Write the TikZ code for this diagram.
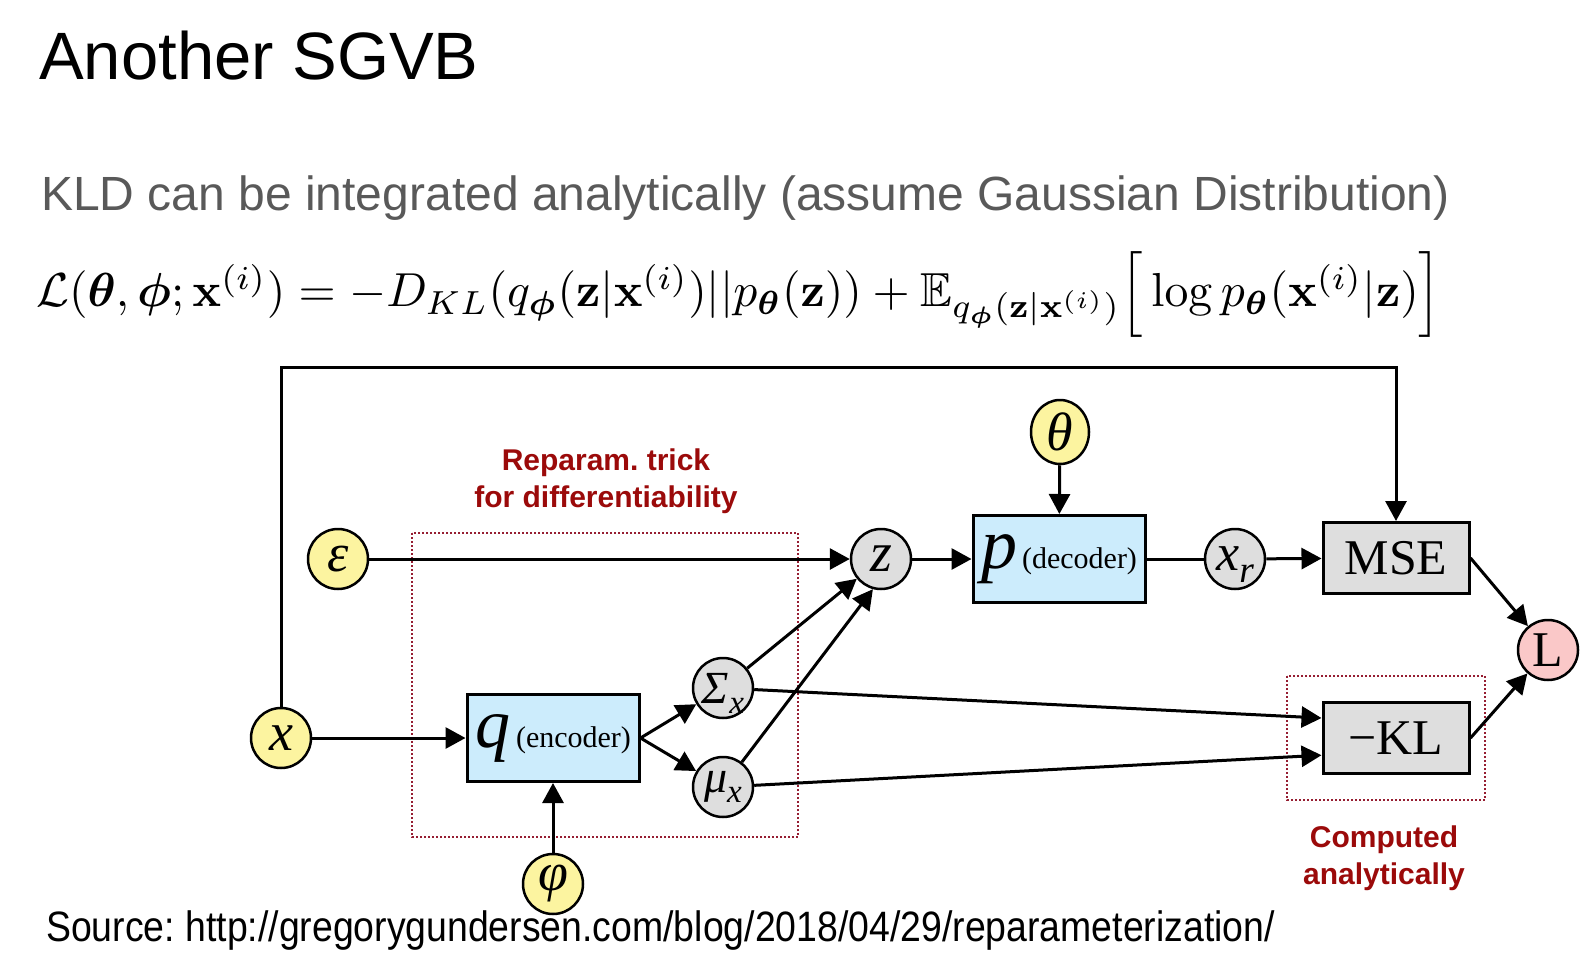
\documentclass[tikz,border=0pt]{standalone}
\usepackage{amsmath,amssymb}
\usepackage[no-math]{fontspec}
\setmainfont{Liberation Serif}
\newfontfamily\arialfont{Liberation Sans}
\usetikzlibrary{arrows.meta,shapes.geometric}

\definecolor{varyellow}{RGB}{252,244,160}
\definecolor{vargray}{RGB}{222,222,222}
\definecolor{netblue}{RGB}{204,236,252}
\definecolor{losspink}{RGB}{250,200,200}
\definecolor{notered}{RGB}{155,10,10}
\definecolor{boxred}{RGB}{150,30,50}
\definecolor{subgray}{RGB}{89,89,89}

\newcommand\fsz[1]{\fontsize{#1}{#1}\selectfont}
\newcommand\lowidx[1]{\raisebox{-0.22em}[0pt][0pt]{\scalebox{0.72}{#1}}}
\frenchspacing

\begin{document}
\begin{tikzpicture}[x=1pt,y=-1pt]
    \tikzset{
      var/.style={
        circle,
        draw,
        line width=2.5pt,
        minimum size=60pt,
        inner sep=0pt,
        font=\fsz{54}\itshape,
      },
      obs/.style={var, fill=varyellow},
      hid/.style={var, fill=vargray},
      net/.style={
        rectangle, draw, line width=3pt, fill=netblue,
        minimum width=172pt, minimum height=87pt, inner sep=0pt,
      },
      cost/.style={
        rectangle, draw, line width=3pt, fill=vargray,
        minimum width=146pt, minimum height=71pt, inner sep=0pt,
        font=\fsz{50},
      },
      note/.style={
        text=notered, align=center, inner sep=0pt,
        font=\arialfont\bfseries\fontsize{30}{37}\selectfont,
      },
      flow/.style={
        line width=3pt,
        -{Triangle[length=20pt,width=21pt]},
      }
    }
    \tikzstyle{bigbox} = [draw=boxred, line width=2pt, dotted]

    \useasboundingbox (0,0) rectangle (1596,961);

    % text of the slide
    \node[anchor=base west, inner sep=0pt, font=\arialfont\fsz{67}] (title) at (39,79) {Another SGVB};
    \node[anchor=base west, inner sep=0pt, text=subgray, font=\arialfont\fsz{48}] (claim) at (41,210)
        {KLD can be integrated analytically (assume Gaussian Distribution)};
    \node[anchor=west, inner sep=0pt] (elbo) at (36,295) {\scalebox{4.77}{$
        \mathcal{L}(\boldsymbol{\theta},\boldsymbol{\phi};\mathbf{x}^{(i)})
        = -D_{KL}(q_{\boldsymbol{\phi}}(\mathbf{z}|\mathbf{x}^{(i)})||p_{\boldsymbol{\theta}}(\mathbf{z}))
        + \mathbb{E}_{q_{\boldsymbol{\phi}}(\mathbf{z}|\mathbf{x}^{(i)})}
        \Big[\log p_{\boldsymbol{\theta}}(\mathbf{x}^{(i)}|\mathbf{z})\Big]$}};
    \node[anchor=base west, inner sep=0pt] (source) at (46,941)
        {\scalebox{0.88}[1]{\arialfont\fsz{42.5}Source: http://gregorygundersen.com/blog/2018/04/29/reparameterization/}};

    % dotted frames and their notes
    \draw[bigbox] (412,533) rectangle (798,837);
    \draw[bigbox] (1287,676) rectangle (1485,800);
    \node[note] (reparam) at (606,481) {Reparam. trick\\for differentiability};
    \node[note] (analytic) at (1384,858) {Computed\\analytically};

    % graph
    \node[obs] (xin) at (281,738) {x};
    \node[obs] (eps) at (338,559) {ε};
    \node[obs] (phi) at (553,884) {φ};
    \node[obs, ellipse, minimum width=58pt, minimum height=64pt] (theta) at (1060,432) {θ};
    \node[net] (enc) at (553,738) {{\fsz{70}\itshape q}\kern6pt{\fsz{30}(encoder)}};
    \node[hid, font=\fsz{46}\itshape] (sig) at (723,688) {Σ\lowidx{x}};
    \node[hid, font=\fsz{46}\itshape] (mu) at (723,787) {μ\lowidx{x}};
    \node[hid, font=\fsz{56}\itshape] (z) at (881,559) {z};
    \node[net] (dec) at (1059,559) {{\fsz{72}\itshape p}\kern5pt{\fsz{30}(decoder)}};
    \node[hid, font=\fsz{52}\itshape] (xr) at (1235,559) {x\lowidx{r}};
    \node[cost] (mse) at (1396,558) {MSE};
    \node[cost] (kl) at (1396,738) {−KL};
    \node[var, fill=losspink, font=\fsz{50}] (loss) at (1548,650) {L};
    \coordinate (toprun) at (840,367);

    \path[flow]
        (xin) edge (enc)
        (phi) edge (enc)
        (enc.east) edge (sig)
        (enc.east) edge (mu)
        (eps) edge (z)
        (sig) edge (z)
        (mu) edge (z.255)
        (z) edge (dec)
        (theta) edge (dec)
        (xr) edge (mse)
        (sig) edge (kl.165)
        (mu) edge (kl.193)
        (mse.east) edge (loss)
        (kl.east) edge (loss);
    \draw[line width=3pt] (dec) -- (xr);
    \draw[flow] (xin) |- (toprun) -| (mse);
\end{tikzpicture}
\end{document}
